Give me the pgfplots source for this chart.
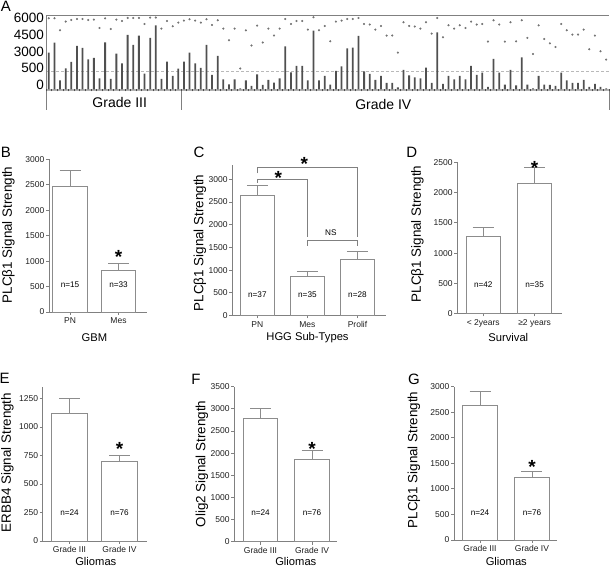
\documentclass[border=0pt]{standalone}
\usepackage{fontspec}
\setmainfont{Liberation Sans}
\usepackage{pgfplots}
\pgfplotsset{compat=1.18}
\usepackage{pgfplotstable}
\definecolor{axgray}{RGB}{128,128,128}
\definecolor{bargray}{RGB}{140,140,140}
\definecolor{txt}{RGB}{30,30,30}
\definecolor{adark}{RGB}{80,80,80}
\definecolor{adot}{RGB}{115,115,115}

\pgfplotstableread{
b d
36.7 71
46.7 71
9 59
21 67.7
27.3 69.3
43.3 70.3
41.3 70.3
30 69.3
31.3 69.7
11 61.3
47 71
10.3 60.3
35.7 69.7
26 68.3
54.3 71.3
44.3 71.3
53.7 71.3
15.7 65.3
51.3 71.7
64 71.7
10.3 60.7
27.7 68.3
13.3 63
20.7 66.7
27.7 68.7
36.7 70
26 68.7
21.3 66.7
44.3 70
14.3 64.3
33.3 69
10 60.7
5 49
10 60.7
1 20.7
9 59
3.3 43.7
15 63.7
4.3 46.7
9.3 60.7
6.7 53.7
11 60.7
43 70.3
17 65.3
23.3 68.3
23.3 68.3
9 59.7
58.7 72
9 59
13.3 63.3
4.7 48
18.3 67.7
23 68.7
41 70.3
41.7 70.3
53.3 71.3
18 65.3
15.3 64.7
9.3 59.7
13.3 63.3
6.3 53.7
6.3 53.7
2 36.7
19.3 67
14 63.3
12 62.7
11 60.7
21.7 67
6.3 55.7
57 71.3
5.3 52
13.3 64
10 60.7
13.3 64
10 61.3
23.3 67.7
14.3 64.7
16.7 65.3
2.3 47.7
30.3 69
16.7 64.7
4.7 47.7
19.3 67
4 48
32 69
4.7 51.3
1 35.3
13.3 64
4.7 50.3
4.3 46
3.3 42.3
16.7 65.3
9 59
6.3 54.7
6.3 54.7
9.3 59.7
2.3 40
5.3 53.7
2.3 38
1 29.7
}\dataA

\pgfplotsset{
  bpanel/.style={
    scale only axis, anchor=south west,
    axis x line*=bottom, axis y line*=left,
    axis line style={draw=axgray, line width=0.9pt, -},
    xtick style={draw=axgray, line width=0.9pt},
    ytick style={draw=axgray, line width=0.9pt},
    tick align=outside, major tick length=3pt,
    ymin=0, clip=false,
    tick label style={font=\fontsize{8.5}{9}\selectfont, text=txt},
    yticklabel style={inner sep=1.5pt},
    xticklabel style={inner sep=2.5pt},
    /pgf/number format/assume math mode=true,
    /pgf/number format/1000 sep={},
    scaled y ticks=false,
  },
  mybar/.style={ybar, bar width=#1, draw=bargray, fill=white, line width=0.9pt,
    error bars/y dir=plus, error bars/y explicit,
    error bars/error bar style={draw=bargray, line width=0.9pt},
    error bars/error mark options={rotate=90, mark size=10.5pt, draw=bargray, line width=0.9pt}},
}
\newcommand\nl[1]{{\fontsize{8.2}{9}\selectfont #1}}
\newcommand\sig{{\fontsize{19}{19}\selectfont\bfseries *}}
\tikzset{sigst/.style={anchor=base, yshift=-11pt, inner sep=0pt, text=black}}

\begin{document}
\begin{tikzpicture}[x=1pt,y=1pt]
\useasboundingbox (0,0) rectangle (610,569);

% ---------------- Panel A ----------------
\begin{axis}[
  at={(46pt,477.7pt)}, anchor=south west,
  scale only axis, width=563pt, height=76pt,
  xmin=-0.5, xmax=99.5, ymin=-2, ymax=74,
  axis line style={draw=none},
  axis on top,
  xtick={-0.5,0.5,...,99.5}, xticklabels={},
  tick align=inside, major tick length=2.6pt,
  xtick style={draw=black!70, line width=0.6pt},
  ytick={4.3,21.3,37.3,54.3,71.3}, yticklabels={0,500,3000,4500,6000},
  ytick style={draw=none},
  yticklabel style={font=\fontsize{13.5}{14}\selectfont, inner sep=0pt, xshift=-2pt},
  /pgf/number format/assume math mode=true,
  xtick pos=bottom, ytick pos=left,
  clip=false,
]
\fill[gray!60] (axis cs:-0.5,-2) rectangle (axis cs:99.5,0.6);
\draw[gray!55, line width=0.5pt, densely dashed] (axis cs:-0.5,18.3) -- (axis cs:99.5,18.3);
\draw[axgray, line width=0.8pt] (axis cs:-0.5,-20.7) -- (axis cs:-0.5,74) -- (axis cs:99.5,74);
\draw[axgray, line width=0.8pt] (axis cs:23.5,-2) -- (axis cs:23.5,-20.7);
\draw[axgray, line width=0.8pt] (axis cs:99.5,-2) -- (axis cs:99.5,-20.7);
\addplot[ybar, bar width=0.32, fill=adark, draw=none] table[x expr=\coordindex, y=b] {\dataA};
\addplot[only marks, mark=*, mark size=0.85pt, color=adot] table[x expr=\coordindex, y=d] {\dataA};
\end{axis}
\node[font=\fontsize{15}{15}\selectfont] at (5.8,563) {A};
\node[font=\fontsize{14}{14}\selectfont] at (119.7,466.5) {Grade III};
\node[font=\fontsize{14}{14}\selectfont] at (383.3,464.7) {Grade IV};

% ---------------- Panel B ----------------
\begin{axis}[bpanel, at={(49pt,257pt)}, width=97.5pt, height=152.7pt,
  xmin=-0.433, xmax=1.577, ymax=3000, ytick={0,500,...,3000},
  xtick={0,1}, xticklabels={PN,Mes}]
\addplot[mybar=0.707] coordinates {(0,2470) +- (0,320) (1,817) +- (0,130)};
\node at (axis cs:0,540) {\nl{n=15}};
\node at (axis cs:1,540) {\nl{n=33}};
\node[sigst] at (axis cs:1,1163) {\sig};
\end{axis}

% ---------------- Panel C ----------------
\begin{axis}[bpanel, at={(232.3pt,253.5pt)}, width=153.7pt, height=150.5pt,
  xmin=-0.5, xmax=2.57, ymax=3315, ytick={0,500,...,3000},
  xtick={0,1,2}, xticklabels={PN,Mes,Prolif}]
\addplot[mybar=0.667] coordinates {(0,2648) +- (0,220) (1,870) +- (0,103) (2,1244) +- (0,170)};
\node at (axis cs:0,450) {\nl{n=37}};
\node at (axis cs:1,450) {\nl{n=35}};
\node at (axis cs:2,450) {\nl{n=28}};
\draw[axgray, line width=0.9pt] (axis cs:0,3132) -- (axis cs:0,3264) -- (axis cs:2,3264) -- (axis cs:2,1736);
\draw[axgray, line width=0.9pt] (axis cs:0,2925) -- (axis cs:0,3000) -- (axis cs:1,3000) -- (axis cs:1,1736);
\draw[axgray, line width=0.9pt] (axis cs:1,1531) -- (axis cs:1,1648) -- (axis cs:2,1648) -- (axis cs:2,1531);
\node[sigst] at (axis cs:0.94,3425) {\sig};
\node[sigst] at (axis cs:0.42,3132) {\sig};
\node at (axis cs:1.47,1824) {\nl{NS}};
\end{axis}

% ---------------- Panel D ----------------
\begin{axis}[bpanel, at={(457.3pt,255.5pt)}, width=104.7pt, height=151pt,
  xmin=-0.505, xmax=1.534, ymax=2500, ytick={0,500,...,2500},
  xtick={0,1}, xticklabels={< 2years,≥2 years}]
\addplot[mybar=0.66] coordinates {(0,1271) +- (0,156) (1,2156) +- (0,258)};
\node at (axis cs:0,472) {\nl{n=42}};
\node at (axis cs:1,472) {\nl{n=35}};
\node[sigst] at (axis cs:1,2487) {\sig};
\end{axis}

% ---------------- Panel E ----------------
\begin{axis}[bpanel, at={(42.7pt,28pt)}, width=104pt, height=154.3pt,
  xmin=-0.536, xmax=1.544, ymax=1353, ytick={0,250,...,1250},
  xtick={0,1}, xticklabels={Grade III,Grade IV}]
\addplot[mybar=0.72] coordinates {(0,1120) +- (0,132) (1,696) +- (0,58)};
\node at (axis cs:0,250) {\nl{n=24}};
\node at (axis cs:1,250) {\nl{n=76}};
\node[sigst] at (axis cs:1,842) {\sig};
\end{axis}

% ---------------- Panel F ----------------
\begin{axis}[bpanel, at={(234.3pt,27.3pt)}, width=103pt, height=155pt,
  xmin=-0.509, xmax=1.49, ymax=3500, ytick={0,500,...,3500},
  xtick={0,1}, xticklabels={Grade III,Grade IV}]
\addplot[mybar=0.667] coordinates {(0,2792) +- (0,226) (1,1864) +- (0,188)};
\node at (axis cs:0,656) {\nl{n=24}};
\node at (axis cs:1,656) {\nl{n=76}};
\node[sigst] at (axis cs:1,2204) {\sig};
\end{axis}

% ---------------- Panel G ----------------
\begin{axis}[bpanel, at={(454pt,29pt)}, width=103.3pt, height=153.3pt,
  xmin=-0.5, xmax=1.487, ymax=3000, ytick={0,500,...,3000},
  xtick={0,1}, xticklabels={Grade III,Grade IV}]
\addplot[mybar=0.66] coordinates {(0,2642) +- (0,260) (1,1227) +- (0,110)};
\node at (axis cs:0,534) {\nl{n=24}};
\node at (axis cs:1,534) {\nl{n=76}};
\node[sigst] at (axis cs:1,1513) {\sig};
\end{axis}

% ---------------- letters, axis titles ----------------
\begin{scope}[every node/.style={font=\fontsize{15}{15}\selectfont}]
\node at (5.8,416.5) {B};
\node at (199,417) {C};
\node at (411.7,417) {D};
\node at (4.7,190.3) {E};
\node at (196,190) {F};
\node at (414,190) {G};
\end{scope}
\begin{scope}[every node/.style={font=\fontsize{13.4}{14}\selectfont, rotate=90}]
\node at (8.3,334) {PLCβ1 Signal Strength};
\node at (200,326) {PLCβ1 Signal Strength};
\node at (417.5,335) {PLCβ1 Signal Strength};
\node at (7.5,106.5) {ERBB4 Signal Strength};
\node at (202,105) {Olig2 Signal Strength};
\node at (414,109) {PLCβ1 Signal Strength};
\end{scope}
\begin{scope}[every node/.style={font=\fontsize{11.2}{12}\selectfont}]
\node at (94.5,231.5) {GBM};
\node at (307.5,231) {HGG Sub-Types};
\node at (508.3,231) {Survival};
\node at (95.8,7.5) {Gliomas};
\node at (295.8,7.5) {Gliomas};
\node at (506.3,7.5) {Gliomas};
\end{scope}
\end{tikzpicture}
\end{document}
